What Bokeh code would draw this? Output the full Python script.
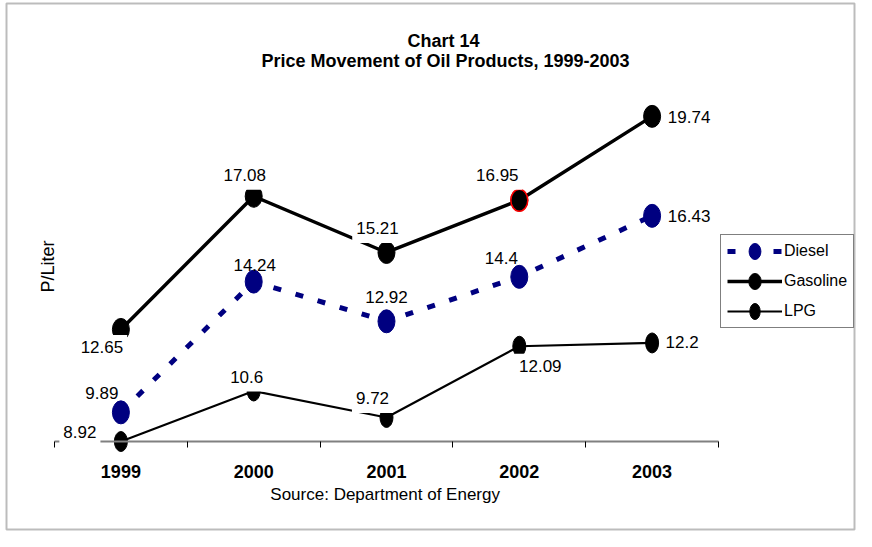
import math
from bokeh.plotting import figure
from bokeh.models import (Range1d, FixedTicker, Legend, LegendItem, Label,
                          ColumnDataSource, BoxAnnotation)
from bokeh.embed import file_html
from bokeh.resources import INLINE

# ---- data ----
years = [1999, 2000, 2001, 2002, 2003]
diesel = [9.89, 14.24, 12.92, 14.40, 16.43]
gasoline = [12.65, 17.08, 15.21, 16.95, 19.74]
lpg = [8.92, 10.60, 9.72, 12.09, 12.20]
series_names = ["Diesel", "Gasoline", "LPG"]
title_text = "Chart 14"
subtitle_text = "Price Movement of Oil Products, 1999-2003"
y_label = "P/Liter"
source_text = "Source:  Department of Energy"
axis_cross = 8.92

# ---- styles / layout ----
NAVY = "#000080"
FONT = "Liberation Sans"
W, H = 856, 531
X0, X1 = 1998.0934, 2004.5392
Y0, Y1 = 5.925, 23.596
# label offsets (pixels: dx right, dy down)
gas_off = [(-19, 19), (-9, -20), (-9, -23), (-22, -24), (37, 2)]
die_off = [(-19, -19), (1, -17), (0, -24), (-18, -19), (37, 0)]
lpg_off = [(-41, -8), (-7, -13), (-14, -18), (21, 21), (30, 1)]

src = ColumnDataSource(dict(year=years, diesel=diesel, gasoline=gasoline, lpg=lpg))

p = figure(width=W, height=H, x_range=Range1d(X0, X1), y_range=Range1d(Y0, Y1),
           output_backend="svg", toolbar_location=None, min_border=0)
p.title.visible = False
p.outline_line_color = None
p.xgrid.visible = False
p.ygrid.visible = False
p.yaxis.visible = False
p.background_fill_color = "white"
p.border_fill_color = "white"

# outer chart border (pixel box -> data units)
def px_x(px):
    return X0 + (X1 - X0) * px / W

def px_y(py):
    return Y1 - (Y1 - Y0) * py / H

p.add_layout(BoxAnnotation(left=px_x(6), right=px_x(854), top=px_y(3),
                           bottom=px_y(529), fill_alpha=0,
                           line_color="#222222", line_width=2))

# x axis drawn at the crossing value, limited to the category span
xa = p.xaxis[0]
xa.fixed_location = axis_cross
xa.bounds = (years[0] - 0.5, years[-1] + 0.5)
xa.ticker = FixedTicker(ticks=years,
                        minor_ticks=[y - 0.5 for y in years] + [years[-1] + 0.5])
xa.major_tick_out = 0
xa.major_tick_in = 0
xa.minor_tick_out = 6
xa.minor_tick_in = 0
xa.minor_tick_line_color = "black"
xa.axis_line_color = "#808080"
xa.axis_line_width = 2
xa.major_label_text_font = FONT
xa.major_label_text_font_style = "bold"
xa.major_label_text_font_size = "18px"
xa.major_label_text_color = "black"
xa.major_label_standoff = 17

# series
d_line = p.line("year", "diesel", source=src, line_color=NAVY, line_width=5,
                line_dash="8 15")
d_mark = p.ellipse("year", "diesel", source=src, width=17, height=23,
                   width_units="screen", height_units="screen",
                   fill_color=NAVY, line_color=NAVY)
g_line = p.line("year", "gasoline", source=src, line_color="black", line_width=3.5)
g_mark = p.ellipse("year", "gasoline", source=src, width=17, height=22,
                   width_units="screen", height_units="screen",
                   fill_color="black", line_color="black")
p.ellipse(x=[years[3]], y=[gasoline[3]], width=17, height=22,
          width_units="screen", height_units="screen",
          fill_color="black", line_color="red", line_width=1.5)
l_line = p.line("year", "lpg", source=src, line_color="black", line_width=2.2)
l_mark = p.ellipse("year", "lpg", source=src, width=13, height=20,
                   width_units="screen", height_units="screen",
                   fill_color="black", line_color="black")

# data labels (white boxes for Gasoline and LPG, as in the original)
for vals, offs, boxed in ((gasoline, gas_off, True), (diesel, die_off, False),
                          (lpg, lpg_off, True)):
    for x, v, (dx, dy) in zip(years, vals, offs):
        p.add_layout(Label(x=x, y=v, x_offset=dx, y_offset=-dy, text=f"{v:g}",
                           text_align="center", text_baseline="middle",
                           text_font=FONT, text_font_size="17px",
                           text_color="black",
                           background_fill_color="white" if boxed else None,
                           padding=(4, 4, 6, 9) if boxed else 0))

# titles, axis titles (screen units from frame bottom-left)
def screen_label(x, y, text, size, style="normal", angle=0.0):
    p.add_layout(Label(x=x, y=y, x_units="screen", y_units="screen", text=text,
                       text_align="center", text_baseline="middle", angle=angle,
                       text_font=FONT, text_font_style=style,
                       text_font_size=size, text_color="black"))

screen_label(443, 491, title_text, "18px", "bold")
screen_label(445, 471, subtitle_text, "18px", "bold")
screen_label(387, 37, source_text, "17px")
screen_label(47, 265, y_label, "18px", angle=math.pi / 2)

legend = Legend(items=[LegendItem(label=series_names[0], renderers=[d_line, d_mark]),
                       LegendItem(label=series_names[1], renderers=[g_line, g_mark]),
                       LegendItem(label=series_names[2], renderers=[l_line, l_mark])],
                location=(720, 203), orientation="vertical", margin=0,
                border_line_color="black", border_line_width=1,
                padding=6, spacing=10, glyph_width=55, glyph_height=20,
                label_standoff=2, label_height=20,
                label_text_font=FONT, label_text_font_size="16px",
                label_text_color="black", background_fill_color="white")
p.add_layout(legend, "center")

open("out.html", "w").write(file_html(p, INLINE))
